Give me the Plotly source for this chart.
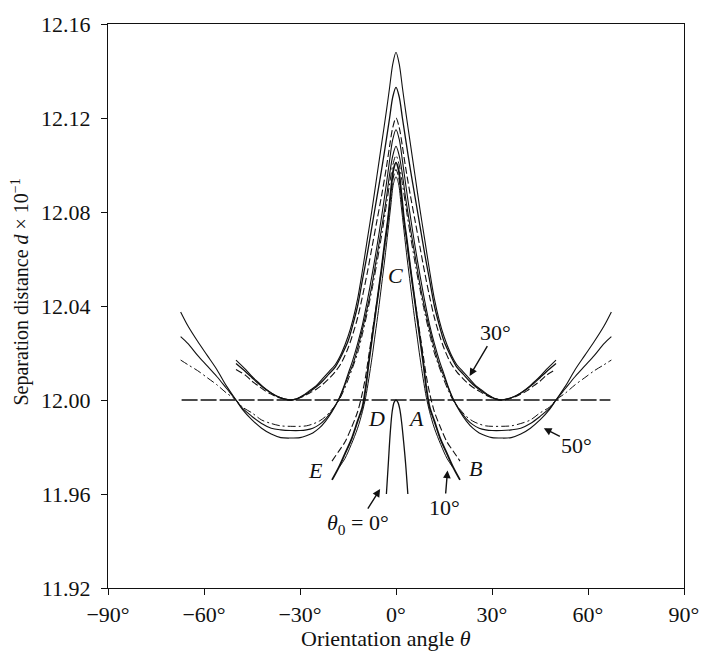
import plotly.graph_objects as go

# ---------------------------------------------------------------------------
# Separation distance d (x 10^-1) against orientation angle theta (degrees).
# Curves are symmetric about theta = 0, so they are listed for theta >= 0
# and reflected when drawn.
# ---------------------------------------------------------------------------

# theta0 = 30 deg family
theta_30 = [0, 1, 2, 3, 4.5, 6, 7.5, 9, 10.5, 12, 13.5, 15, 17, 19, 21, 23,
            25, 27, 29, 31, 33, 35, 37, 39, 41, 43, 45, 47, 50]
d_30_a = [12.148, 12.143, 12.133, 12.123, 12.109, 12.095, 12.081, 12.068,
          12.055, 12.043, 12.034, 12.027, 12.020, 12.015, 12.012, 12.009,
          12.006, 12.004, 12.002, 12.0005, 12.000, 12.0005, 12.0015, 12.003,
          12.005, 12.0075, 12.010, 12.013, 12.017]
d_30_b = [12.133, 12.129, 12.120, 12.111, 12.098, 12.086, 12.074, 12.062,
          12.051, 12.040, 12.032, 12.025, 12.019, 12.014, 12.011, 12.008,
          12.0055, 12.0035, 12.0018, 12.0005, 12.000, 12.0005, 12.0015, 12.003,
          12.0048, 12.007, 12.0095, 12.012, 12.0155]
d_30_c = [12.120, 12.116, 12.108, 12.099, 12.087, 12.076, 12.065, 12.054,
          12.044, 12.035, 12.028, 12.022, 12.016, 12.012, 12.009, 12.0065,
          12.0045, 12.003, 12.0015, 12.0005, 12.000, 12.0004, 12.0012, 12.0025,
          12.004, 12.006, 12.008, 12.0105, 12.013]

# theta0 = 50 deg family
theta_50 = [0, 1, 2, 3, 4.5, 6, 7.5, 9, 10.5, 12, 13.5, 15, 16.5, 18, 20, 22,
            24, 26, 28, 30, 33, 36, 39, 42, 45, 48, 50, 53, 56, 59, 62, 65, 67.3]
d_50_a = [12.115, 12.111, 12.102, 12.092, 12.078, 12.065, 12.053, 12.042,
          12.032, 12.024, 12.017, 12.011, 12.005, 12.000, 11.995, 11.991,
          11.988, 11.986, 11.9848, 11.984, 11.9838, 11.984, 11.9855, 11.988,
          11.9915, 11.996, 12.000, 12.006, 12.013, 12.019, 12.025, 12.0315,
          12.0375]
d_50_b = [12.108, 12.104, 12.096, 12.086, 12.073, 12.061, 12.049, 12.039,
          12.030, 12.022, 12.015, 12.010, 12.0045, 12.000, 11.9955, 11.992,
          11.9895, 11.988, 11.9873, 11.987, 11.987, 11.9873, 11.988, 11.990,
          11.993, 11.9965, 12.000, 12.005, 12.010, 12.0145, 12.019, 12.024,
          12.027]
d_50_c = [12.104, 12.100, 12.092, 12.083, 12.070, 12.058, 12.047, 12.037,
          12.028, 12.020, 12.014, 12.0085, 12.0035, 11.9995, 11.996, 11.993,
          11.991, 11.9898, 11.989, 11.9888, 11.9888, 11.989, 11.990, 11.9915,
          11.9945, 11.997, 12.000, 12.003, 12.0065, 12.0095, 12.0125, 12.015,
          12.017]

# theta0 = 10 deg family
theta_10 = [0, 0.8, 1.6, 2.5, 3.5, 4.5, 5.5, 6.5, 7.5, 8.5, 9.5, 10.5, 12,
            14, 16, 18, 20]
d_10_a = [12.101, 12.098, 12.089, 12.077, 12.067, 12.056, 12.046, 12.036,
          12.026, 12.016, 12.005, 11.997, 11.991, 11.983, 11.977, 11.971,
          11.966]
d_10_b = [12.098, 12.095, 12.087, 12.077, 12.066, 12.056, 12.046, 12.037,
          12.028, 12.019, 12.010, 12.003, 11.995, 11.988, 11.982, 11.978,
          11.974]
theta_10_c = [0, 0.8, 1.6, 2.5, 3.5, 4.5, 5.5, 6.5, 7.5, 8.5, 9.5, 10.5, 12,
              14, 16, 17.7]
d_10_c = [12.095, 12.092, 12.083, 12.072, 12.060, 12.049, 12.038, 12.028,
          12.018, 12.009, 12.001, 11.995, 11.988, 11.981, 11.975, 11.9715]

# theta0 = 0 deg curve
theta_0 = [-3.0, -2.4, -1.8, -1.2, -0.6, 0, 0.6, 1.2, 1.8, 2.4, 3.0, 3.7]
d_0 = [11.960, 11.973, 11.986, 11.995, 11.999, 12.000, 11.999, 11.996,
       11.990, 11.982, 11.973, 11.960]

# reference separation
ref_theta = [-67, 67]
ref_d = [12.00, 12.00]

# axis ticks
x_ticks = [-90, -60, -30, 0, 30, 60, 90]
x_ticktext = ["\u221290\u00b0", "\u221260\u00b0", "\u221230\u00b0", "0\u00b0",
              "30\u00b0", "60\u00b0", "90\u00b0"]
y_ticks = [11.92, 11.96, 12.00, 12.04, 12.08, 12.12, 12.16]
y_ticktext = ["11.92", "11.96", "12.00", "12.04", "12.08", "12.12", "12.16"]


def mirrored(theta, d):
    return ([-t for t in theta[:0:-1]] + list(theta),
            list(d[:0:-1]) + list(d))


FONT = "Liberation Serif"
INK = "#111111"

fig = go.Figure()


def add_curve(theta, d, dash="solid", width=1.1, symmetric=True):
    if symmetric:
        x, y = mirrored(theta, d)
    else:
        x, y = theta, d
    fig.add_trace(go.Scatter(
        x=x, y=y, mode="lines",
        line=dict(color=INK, width=width, dash=dash, shape="spline",
                  smoothing=0.9),
        hoverinfo="skip", showlegend=False))


DASH = "7px,3px"
DASHDOT = "8px,3px,2px,3px"

fig.add_trace(go.Scatter(
    x=ref_theta, y=ref_d, mode="lines",
    line=dict(color=INK, width=1.3, dash="16px,3px"),
    hoverinfo="skip", showlegend=False))

add_curve(theta_30, d_30_a, "solid", 1.1)
add_curve(theta_30, d_30_b, "solid", 1.3)
add_curve(theta_30, d_30_c, DASH, 1.1)

add_curve(theta_50, d_50_a, "solid", 1.1)
add_curve(theta_50, d_50_b, "solid", 1.1)
add_curve(theta_50, d_50_c, DASHDOT, 1.0)

add_curve(theta_10, d_10_a, "solid", 1.8)
add_curve(theta_10, d_10_b, DASH, 1.1)
add_curve(theta_10_c, d_10_c, "solid", 1.0)

add_curve(theta_0, d_0, "solid", 1.3, symmetric=False)

label_font = dict(family=FONT, size=22, color=INK)

# curve letters
for txt, x, y in [("C", -0.3, 12.053), ("D", -6.2, 11.992), ("A", 6.2, 11.992),
                  ("B", 24.8, 11.971), ("E", -25.1, 11.970)]:
    fig.add_annotation(x=x, y=y, text=f"<i>{txt}</i>", showarrow=False,
                       font=label_font, xanchor="center", yanchor="middle")

# theta0 labels, each with a pointer to its curve
for txt, x, y, ax, ay in [
        ("30\u00b0", 23.0, 12.0102, 26, -44),
        ("50\u00b0", 46.2, 11.988, 33, 17),
        ("10\u00b0", 16.1, 11.970, -3, 37),
        ("<i>\u03b8</i><sub>0</sub> = 0\u00b0", -4.97, 11.9621, -22, 35)]:
    fig.add_annotation(x=x, y=y, ax=ax, ay=ay, text=txt, showarrow=True,
                       font=label_font, arrowhead=2, arrowsize=1.1,
                       arrowwidth=1.4, arrowcolor=INK, standoff=0)

# axis titles
fig.add_annotation(xref="paper", yref="paper", x=0.483, y=-0.0904,
                   text="Orientation angle <i>\u03b8</i>", showarrow=False,
                   font=dict(family=FONT, size=22, color=INK),
                   xanchor="center", yanchor="middle")
fig.add_annotation(xref="paper", yref="paper", x=-0.1517, y=0.525,
                   text="Separation distance <i>d</i> \u00d7 10<sup>\u22121</sup>",
                   showarrow=False, textangle=-90,
                   font=dict(family=FONT, size=20, color=INK),
                   xanchor="center", yanchor="middle")

axis_common = dict(showgrid=False, zeroline=False, showline=True,
                   linecolor=INK, linewidth=1.3, mirror=True, ticks="outside",
                   ticklen=6, tickwidth=1.2, tickcolor=INK,
                   tickfont=dict(family=FONT, size=22, color=INK))

fig.update_layout(
    width=711, height=657,
    margin=dict(l=108, r=23, t=13, b=69),
    paper_bgcolor="white", plot_bgcolor="white",
    font=dict(family=FONT, color=INK),
    xaxis=dict(range=[-90, 90], tickvals=x_ticks, ticktext=x_ticktext,
               **axis_common),
    yaxis=dict(range=[11.92, 12.16], tickvals=y_ticks, ticktext=y_ticktext,
               ticklabelstandoff=6, **axis_common),
)

fig.write_html("out.html")
